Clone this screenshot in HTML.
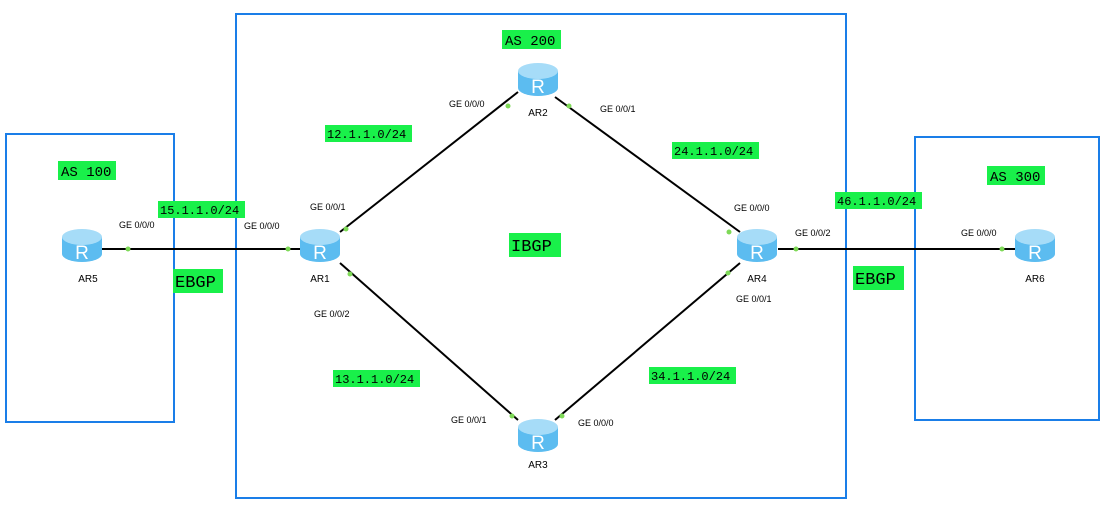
<!DOCTYPE html>
<html><head><meta charset="utf-8"><style>
body{margin:0;background:#fff;width:1110px;height:518px;overflow:hidden}
svg text{font-family:"Liberation Sans",sans-serif}
.g{font-family:"Liberation Mono",monospace !important}
</style></head><body>
<svg width="1110" height="518" xmlns="http://www.w3.org/2000/svg">
<defs>
<g id="r">
<path d="M-20,-9 L-20,8 A20,8 0 0 0 20,8 L20,-9 Z" fill="#5cbcf0"/>
<ellipse cx="0" cy="-9" rx="20" ry="8" fill="#a6dcf8"/>
<text x="0" y="13" text-anchor="middle" font-size="19" fill="#fff">R</text>
</g>
</defs>
<g fill="none" stroke="#1a7ee8" stroke-width="2">
<rect x="6" y="134" width="168" height="288"/>
<rect x="236" y="14" width="610" height="484"/>
<rect x="915" y="137" width="184" height="283"/>
</g>
<g stroke="#000" stroke-width="2">
<line x1="100" y1="249" x2="300" y2="249"/>
<line x1="340" y1="232" x2="518" y2="92"/>
<line x1="555" y1="97" x2="740" y2="232"/>
<line x1="340" y1="263" x2="518" y2="420"/>
<line x1="555" y1="420" x2="740" y2="263"/>
<line x1="778" y1="249" x2="1015" y2="249"/>
</g>
<g fill="#7ed957">
<circle cx="128" cy="249" r="2.5"/><circle cx="288" cy="249" r="2.5"/>
<circle cx="346" cy="229" r="2.5"/><circle cx="508" cy="106" r="2.5"/>
<circle cx="569" cy="106" r="2.5"/><circle cx="729" cy="232" r="2.5"/>
<circle cx="350" cy="274" r="2.5"/><circle cx="512" cy="416" r="2.5"/>
<circle cx="562" cy="416" r="2.5"/><circle cx="728" cy="273" r="2.5"/>
<circle cx="796" cy="249" r="2.5"/><circle cx="1002" cy="249" r="2.5"/>
</g>
<use href="#r" x="82" y="246"/><use href="#r" x="320" y="246"/>
<use href="#r" x="538" y="80"/><use href="#r" x="538" y="436"/>
<use href="#r" x="757" y="246"/><use href="#r" x="1035" y="246"/>
<g font-size="10" fill="#000" text-anchor="middle">
<text x="88" y="282">AR5</text><text x="320" y="282">AR1</text>
<text x="538" y="116">AR2</text><text x="538" y="468">AR3</text>
<text x="757" y="282">AR4</text><text x="1035" y="282">AR6</text>
</g>
<g font-size="9" fill="#000">
<text x="119" y="228">GE 0/0/0</text><text x="244" y="229">GE 0/0/0</text>
<text x="310" y="210">GE 0/0/1</text><text x="449" y="107">GE 0/0/0</text>
<text x="600" y="112">GE 0/0/1</text><text x="734" y="211">GE 0/0/0</text>
<text x="795" y="236">GE 0/0/2</text><text x="961" y="236">GE 0/0/0</text>
<text x="314" y="317">GE 0/0/2</text><text x="451" y="423">GE 0/0/1</text>
<text x="578" y="426">GE 0/0/0</text><text x="736" y="302">GE 0/0/1</text>
</g>
<g fill="#19f04a">
<rect x="502" y="30" width="59" height="19"/>
<rect x="58" y="161" width="58" height="19"/>
<rect x="987" y="166" width="58" height="19"/>
<rect x="325" y="125" width="87" height="17"/>
<rect x="158" y="201" width="87" height="17"/>
<rect x="672" y="142" width="87" height="17"/>
<rect x="835" y="192" width="87" height="17"/>
<rect x="333" y="370" width="87" height="17"/>
<rect x="649" y="367" width="87" height="17"/>
<rect x="509" y="233" width="52" height="24"/>
<rect x="173" y="269" width="50" height="24"/>
<rect x="853" y="266" width="51" height="24"/>
</g>
<g class="g" fill="#000">
<text class="g" x="505" y="45" font-size="14">AS 200</text>
<text class="g" x="61" y="176" font-size="14">AS 100</text>
<text class="g" x="990" y="181" font-size="14">AS 300</text>
<text class="g" x="327" y="138" font-size="12">12.1.1.0/24</text>
<text class="g" x="160" y="214" font-size="12">15.1.1.0/24</text>
<text class="g" x="674" y="155" font-size="12">24.1.1.0/24</text>
<text class="g" x="837" y="205" font-size="12">46.1.1.0/24</text>
<text class="g" x="335" y="383" font-size="12">13.1.1.0/24</text>
<text class="g" x="651" y="380" font-size="12">34.1.1.0/24</text>
<text class="g" x="511" y="251" font-size="17">IBGP</text>
<text class="g" x="175" y="287" font-size="17">EBGP</text>
<text class="g" x="855" y="284" font-size="17">EBGP</text>
</g>
</svg>
</body></html>
